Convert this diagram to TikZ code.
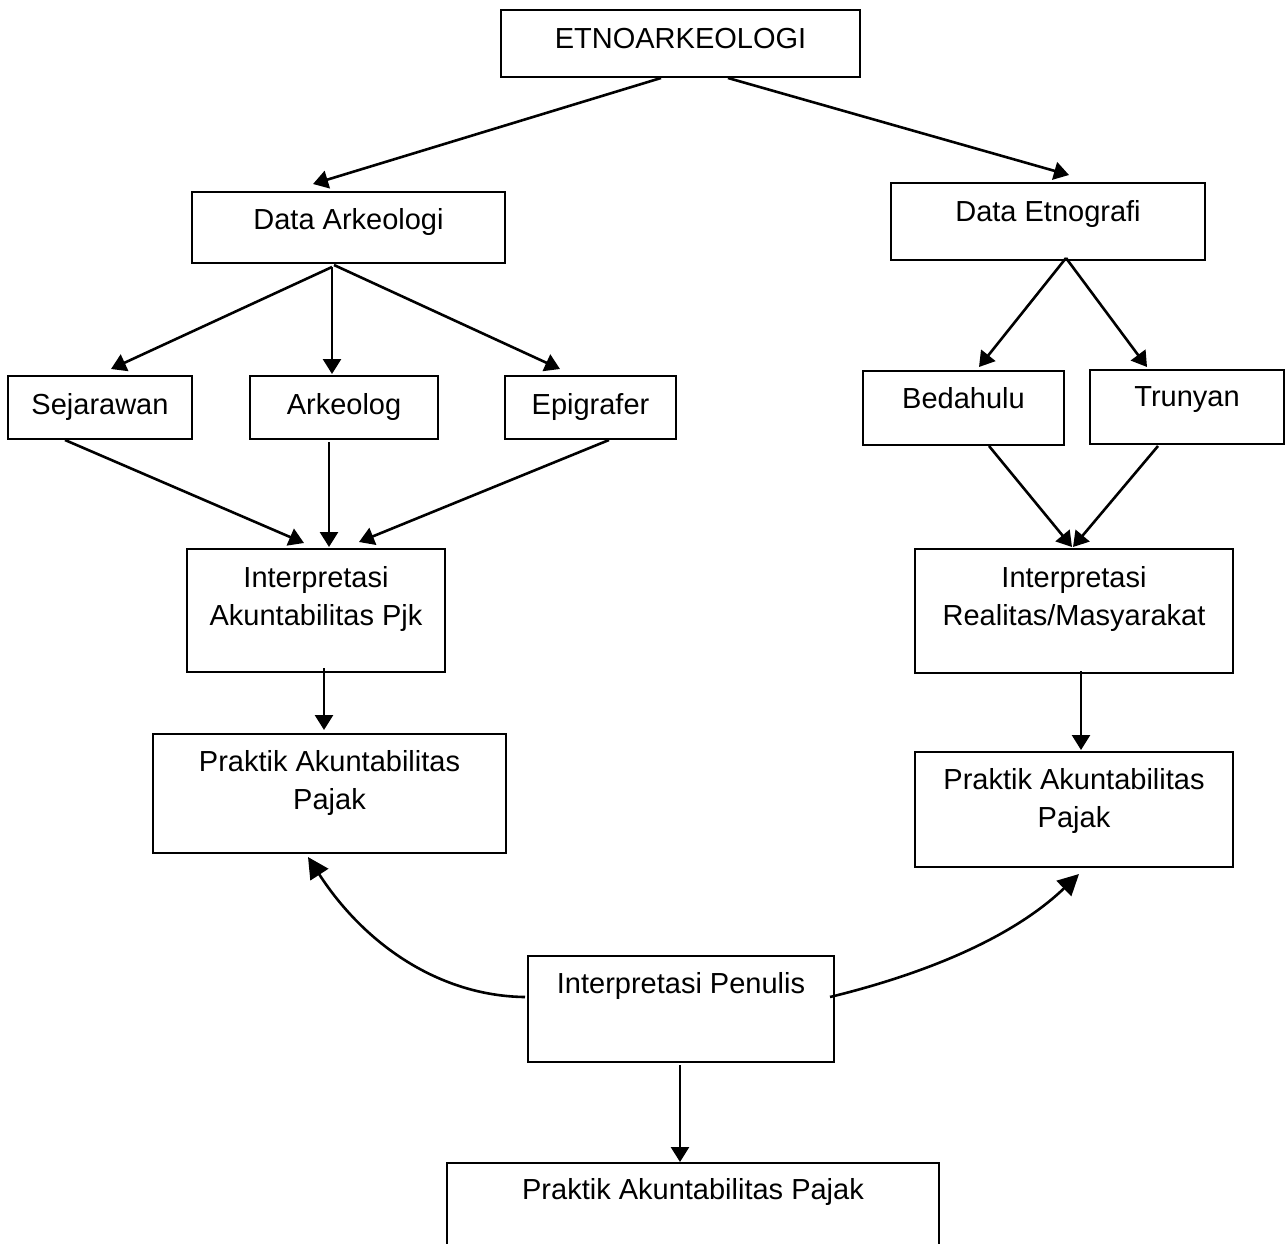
\documentclass[tikz,border=0pt]{standalone}
\usepackage{fontspec}
\setmainfont{Liberation Sans}
\usetikzlibrary{arrows.meta,calc}
\tikzset{
  bx/.style={draw, line width=2pt, rectangle, inner sep=0pt, anchor=north west,
    align=center, font=\fontsize{29}{38.5}\selectfont},
  sz/.style n args={4}{minimum width=#1pt, minimum height=#2pt, text height=#3pt, text depth=#4pt},
  arr/.style={line width=2.6pt, -{Triangle[length=15pt,width=18pt]}},
  carr/.style={line width=2.6pt, -{Triangle[length=21pt,width=21pt]}}
}
\begin{document}
\begin{tikzpicture}[x=1pt,y=-1pt]
\useasboundingbox (0,0) rectangle (1287,1243);
\clip (0,0) rectangle (1287,1243);
\fill[white] (0,0) rectangle (1287,1243);

\node[bx, sz={359}{67}{38}{29}] (etno) at (500,9) {ETNOARKEOLOGI};
\node[bx, sz={313}{71}{37}{34}] (da) at (191,191) {Data Arkeologi};
\node[bx, sz={314}{77}{38}{39}] (de) at (890,182) {Data Etnografi};
\node[bx, sz={184}{63}{38}{25}] (sej) at (7,375) {Sejarawan};
\node[bx, sz={188}{63}{38}{25}] (ark) at (249,375) {Arkeolog};
\node[bx, sz={171}{63}{38}{25}] (epi) at (504,375) {Epigrafer};
\node[bx, sz={201}{74}{37}{37}] (bed) at (862,370) {Bedahulu};
\node[bx, sz={194}{74}{36}{38}] (tru) at (1089,369) {Trunyan};
\node[bx, sz={258}{123}{76.5}{46.5}] (il) at (186,548) {Interpretasi\\Akuntabilitas Pjk};
\node[bx, sz={318}{124}{76.5}{47.5}] (ir) at (914,548) {Interpretasi\\Realitas/Masyarakat};
\node[bx, sz={353}{119}{75.5}{43.5}] (pl) at (152,733) {Praktik Akuntabilitas\\Pajak};
\node[bx, sz={318}{115}{75.5}{39.5}] (pr) at (914,751) {Praktik Akuntabilitas\\Pajak};
\node[bx, sz={306}{106}{37}{69}] (ip) at (527,955) {Interpretasi Penulis};
\node[bx, sz={492}{120}{36}{84}] (pb) at (446,1162) {Praktik Akuntabilitas Pajak};

% top level
\draw[arr] ($(etno.south)+(-19.5,0)$) -- ($(da.north)+(-35.5,-7)$);
\draw[arr] ($(etno.south)+(47.5,0)$) -- ($(de.north)+(21,-7)$);
% data arkeologi fan out
\draw[arr] ($(da.south)+(-16.5,3)$) -- ($(sej.north)+(11,-6)$);
\draw[arr] ($(da.south)+(-16.5,3)$) -- ($(ark.north)+(-12,-1)$);
\draw[arr] ($(da.south)+(-14.5,1)$) -- ($(epi.north)+(-30.5,-6)$);
% data etnografi fan out
\draw[arr] ($(de.south)+(18,-3)$) -- ($(bed.north)+(15.5,-3)$);
\draw[arr] ($(de.south)+(18,-3)$) -- ($(tru.north)+(-40,-2)$);
% fan in left
\draw[arr] ($(sej.south)+(-35,0)$) -- ($(il.north)+(-12,-5)$);
\draw[arr] ($(ark.south)+(-15,2)$) -- ($(il.north)+(13,-1)$);
\draw[arr] ($(epi.south)+(18.5,0)$) -- ($(il.north)+(43,-6)$);
% fan in right
\draw[arr] ($(bed.south)+(25.5,0)$) -- ($(ir.north)+(-2,-1)$);
\draw[arr] ($(tru.south)+(-29,1)$) -- ($(ir.north)+(-1,-1)$);
% interpretasi -> praktik
\draw[arr] ($(il.south)+(8,-5)$) -- ($(pl.north)+(-5.5,-3)$);
\draw[arr] ($(ir.south)+(7,-3)$) -- ($(pr.north)+(7,-1)$);
% penulis
\draw[carr] ($(ip.west)+(-2,-12)$) .. controls (440,996) and (365,945) .. ($(pl.south)+(-21.5,3)$);
\draw[carr] ($(ip.east)+(-5,-12)$) .. controls (920,975) and (1010,940) .. ($(pr.south)+(5,6)$);
\draw[arr] ($(ip.south)+(-1,2)$) -- ($(pb.north)+(-13,0)$);
\end{tikzpicture}
\end{document}
